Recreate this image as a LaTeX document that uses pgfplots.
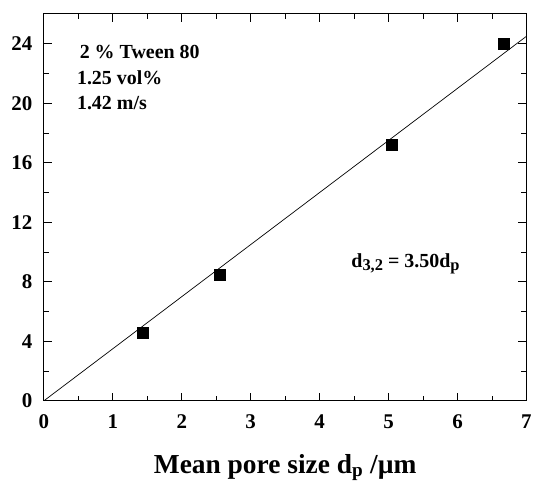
\documentclass[border=0pt]{standalone}
\usepackage{fontspec}
\setmainfont{Liberation Serif}
\usepackage{pgfplots}
\pgfplotsset{compat=1.18}

\newcommand{\lowsub}[1]{\raisebox{-0.35ex}{\fontsize{16.5pt}{18pt}\selectfont #1}}

\begin{document}
\begin{tikzpicture}
\begin{axis}[
  scale only axis,
  width=484pt,
  height=388pt,
  xmin=0, xmax=7,
  ymin=0, ymax=26,
  xtick={0,1,...,7},
  ytick={0,4,...,24},
  minor x tick num=1,
  minor y tick num=1,
  tick align=inside,
  major tick length=8pt,
  minor tick length=5pt,
  tick style={black, line width=0.8pt},
  axis line style={line width=1pt},
  /pgf/number format/assume math mode=true,
  tick label style={font=\fontsize{21pt}{23pt}\selectfont\bfseries},
  yticklabel style={xshift=-8pt},
  xticklabel style={yshift=-10pt},
  xlabel={Mean pore size d\textsubscript{p} /\textmu m},
  xlabel style={font=\fontsize{27.5pt}{29pt}\selectfont\bfseries, yshift=-19pt},
  clip=false,
]
\addplot[black, line width=0.7pt] coordinates {(0,0) (7,24.5)};
\addplot[only marks, mark=square*, mark size=5.5pt, black] coordinates {
  (1.43,4.56)
  (2.55,8.45)
  (5.05,17.2)
  (6.67,24.0)
};
\node[anchor=west, font=\fontsize{20pt}{22pt}\selectfont\bfseries] at (axis cs:0.47,23.45) {2 \% Tween 80};
\node[anchor=west, font=\fontsize{20pt}{22pt}\selectfont\bfseries] at (axis cs:0.43,21.7) {1.25 vol\%};
\node[anchor=west, font=\fontsize{20pt}{22pt}\selectfont\bfseries] at (axis cs:0.43,20.0) {1.42 m/s};
\node[anchor=west, font=\fontsize{20pt}{22pt}\selectfont\bfseries] at (axis cs:4.41,9.2) {d\lowsub{3,2} = 3.50d\lowsub{p}};
\end{axis}
\useasboundingbox (-44pt,-79pt) rectangle (491pt,402pt);
\end{tikzpicture}
\end{document}
